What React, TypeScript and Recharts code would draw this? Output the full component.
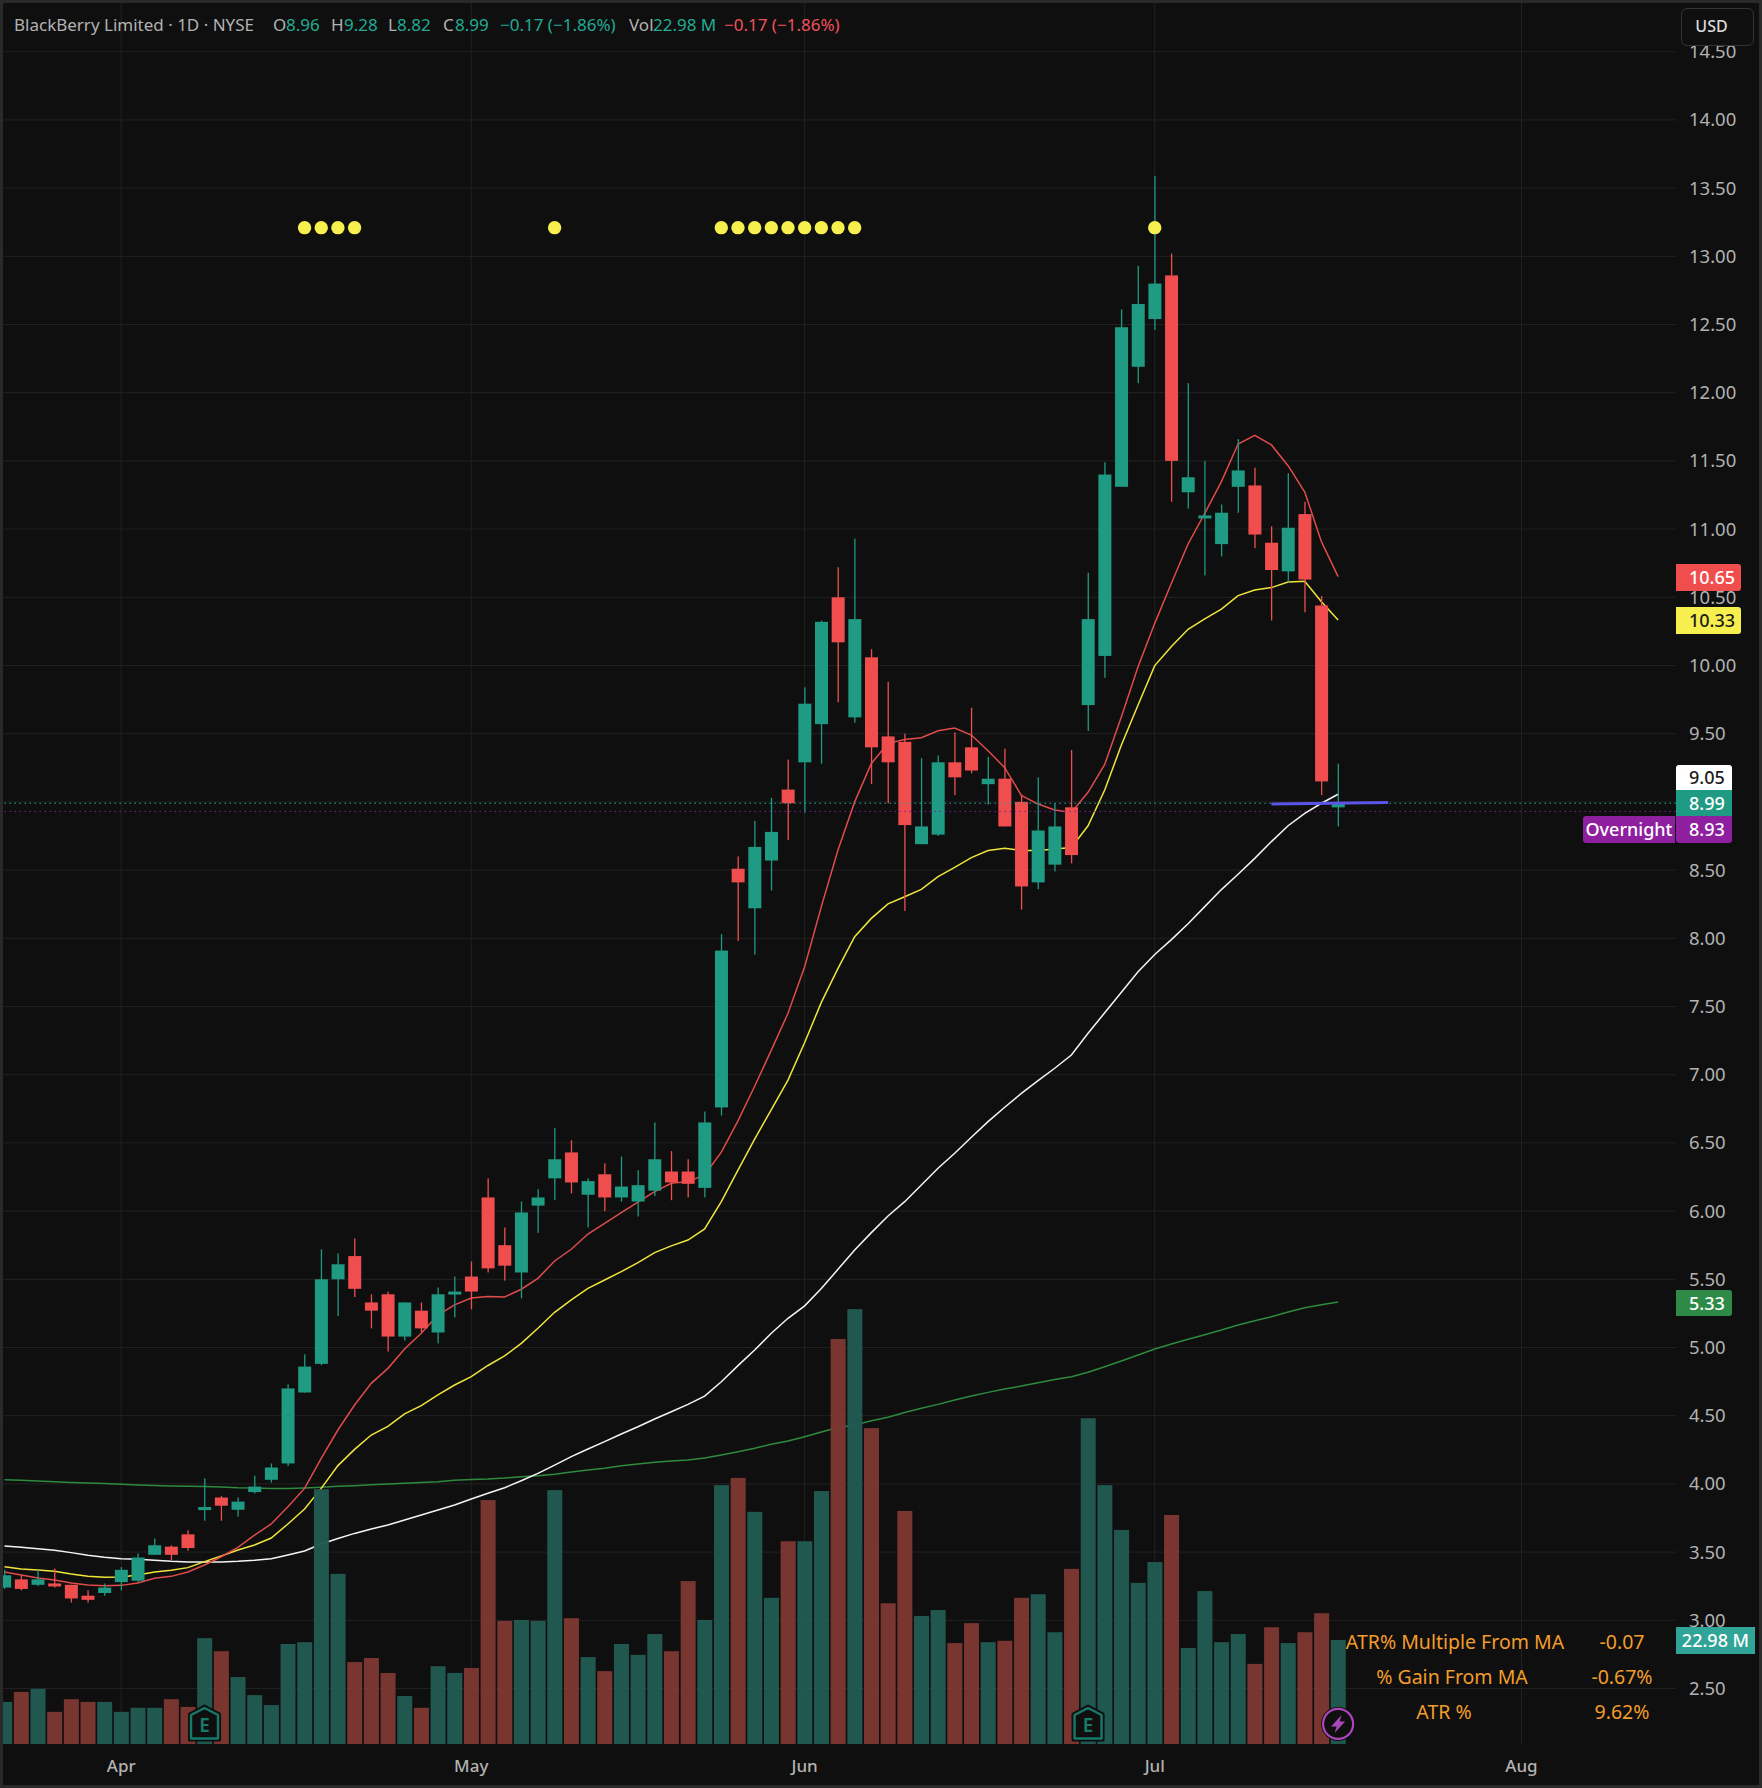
import {
  Bar,
  CartesianGrid,
  ComposedChart,
  Line,
  ReferenceDot,
  ReferenceLine,
  XAxis,
  YAxis,
} from "recharts";

const opens = [3.24, 3.3, 3.26, 3.27, 3.26, 3.18, 3.2, 3.28, 3.29, 3.48, 3.54, 3.63, 3.82, 3.9, 3.81, 3.94, 4.03, 4.15, 4.67, 4.88, 5.5, 5.67, 5.33, 5.39, 5.08, 5.27, 5.11, 5.39, 5.52, 6.1, 5.75, 5.55, 6.04, 6.24, 6.43, 6.12, 6.27, 6.1, 6.07, 6.15, 6.29, 6.29, 6.17, 6.76, 8.51, 8.22, 8.57, 9.09, 9.29, 9.57, 10.5, 9.62, 10.06, 9.48, 9.44, 8.69, 8.76, 9.29, 9.4, 9.13, 9.17, 9.0, 8.41, 8.54, 8.96, 9.71, 10.07, 11.31, 12.19, 12.54, 12.86, 11.27, 11.09, 10.89, 11.31, 11.32, 10.9, 10.69, 11.11, 10.44, 8.96];
const highs = [3.37, 3.33, 3.37, 3.38, 3.26, 3.22, 3.27, 3.39, 3.49, 3.6, 3.55, 3.66, 4.04, 3.91, 3.9, 4.06, 4.15, 4.73, 4.95, 5.72, 5.69, 5.8, 5.39, 5.41, 5.33, 5.33, 5.44, 5.52, 5.63, 6.24, 5.88, 6.07, 6.16, 6.61, 6.52, 6.24, 6.35, 6.4, 6.3, 6.65, 6.44, 6.38, 6.73, 8.03, 8.6, 8.86, 9.03, 9.31, 9.84, 10.33, 10.72, 10.93, 10.12, 9.88, 9.5, 9.32, 9.34, 9.51, 9.69, 9.33, 9.39, 9.05, 9.18, 8.99, 9.38, 10.68, 11.49, 12.61, 12.93, 13.59, 13.02, 12.07, 11.5, 11.18, 11.66, 11.45, 11.02, 11.41, 11.2, 10.51, 9.28];
const lows = [3.23, 3.22, 3.25, 3.24, 3.13, 3.13, 3.18, 3.22, 3.28, 3.48, 3.44, 3.51, 3.73, 3.73, 3.76, 3.93, 4.01, 4.13, 4.67, 4.87, 5.23, 5.37, 5.14, 4.97, 5.05, 5.11, 5.03, 5.22, 5.28, 5.55, 5.49, 5.36, 5.84, 6.08, 6.13, 5.88, 6.0, 6.07, 5.96, 6.11, 6.08, 6.1, 6.1, 6.7, 7.98, 7.88, 8.35, 8.72, 8.92, 9.28, 9.73, 9.58, 9.13, 8.99, 8.2, 8.69, 8.75, 9.05, 9.21, 8.98, 8.82, 8.21, 8.36, 8.49, 8.55, 9.52, 9.91, 11.31, 12.07, 12.46, 11.2, 11.15, 10.66, 10.8, 11.12, 10.86, 10.33, 10.61, 10.39, 9.05, 8.82];
const closes = [3.33, 3.23, 3.3, 3.25, 3.16, 3.15, 3.24, 3.37, 3.46, 3.55, 3.48, 3.53, 3.83, 3.84, 3.87, 3.98, 4.12, 4.7, 4.86, 5.5, 5.61, 5.43, 5.27, 5.08, 5.33, 5.14, 5.39, 5.41, 5.41, 5.58, 5.6, 5.99, 6.1, 6.38, 6.21, 6.22, 6.1, 6.18, 6.19, 6.38, 6.21, 6.2, 6.65, 7.91, 8.41, 8.67, 8.78, 8.99, 9.72, 10.32, 10.17, 10.34, 9.4, 9.29, 8.83, 8.82, 9.29, 9.18, 9.23, 9.17, 8.82, 8.38, 8.79, 8.82, 8.61, 10.34, 11.4, 12.48, 12.65, 12.8, 11.5, 11.38, 11.1, 11.12, 11.43, 10.96, 10.7, 11.01, 10.63, 9.15, 8.99];
const volumes = [9.3, 11.5, 12.2, 7.1, 9.9, 9.3, 9.3, 7.1, 8.0, 8.0, 9.9, 8.2, 23.4, 20.5, 14.8, 10.8, 8.6, 22.1, 22.5, 56.3, 37.6, 18.1, 19.0, 15.7, 10.6, 8.0, 17.2, 15.7, 16.8, 53.9, 27.2, 27.4, 27.2, 56.1, 27.8, 19.2, 16.1, 22.1, 19.7, 24.3, 20.5, 36.0, 27.4, 57.2, 58.8, 51.3, 32.3, 44.8, 44.8, 55.9, 89.5, 96.1, 69.8, 31.1, 51.5, 28.3, 29.6, 22.3, 26.7, 22.5, 22.8, 32.3, 33.1, 24.7, 38.7, 72.0, 57.2, 47.3, 35.6, 40.2, 50.6, 21.2, 33.8, 22.5, 24.3, 17.7, 25.8, 22.3, 24.7, 28.9, 22.98];

const redMa = [3.354, 3.332, 3.31, 3.295, 3.273, 3.259, 3.254, 3.256, 3.273, 3.308, 3.322, 3.354, 3.405, 3.466, 3.535, 3.625, 3.706, 3.833, 3.967, 4.187, 4.395, 4.578, 4.737, 4.847, 4.989, 5.104, 5.238, 5.312, 5.363, 5.373, 5.37, 5.427, 5.507, 5.634, 5.72, 5.832, 5.91, 5.989, 6.065, 6.143, 6.204, 6.216, 6.265, 6.432, 6.662, 6.915, 7.18, 7.45, 7.792, 8.232, 8.647, 9.0, 9.282, 9.429, 9.458, 9.471, 9.522, 9.541, 9.49, 9.375, 9.251, 9.048, 8.984, 8.94, 8.923, 9.07, 9.275, 9.625, 9.99, 10.309, 10.603, 10.891, 11.116, 11.348, 11.624, 11.688, 11.617, 11.465, 11.272, 10.908, 10.651];
const yellowMa = [3.393, 3.376, 3.369, 3.359, 3.339, 3.322, 3.315, 3.317, 3.332, 3.354, 3.366, 3.386, 3.43, 3.471, 3.515, 3.552, 3.603, 3.706, 3.816, 3.967, 4.134, 4.253, 4.358, 4.422, 4.513, 4.574, 4.652, 4.725, 4.786, 4.868, 4.938, 5.03, 5.141, 5.258, 5.349, 5.434, 5.495, 5.556, 5.622, 5.696, 5.745, 5.788, 5.869, 6.069, 6.301, 6.528, 6.744, 6.96, 7.236, 7.53, 7.78, 8.012, 8.146, 8.252, 8.305, 8.359, 8.452, 8.52, 8.591, 8.643, 8.66, 8.643, 8.643, 8.655, 8.665, 8.825, 9.087, 9.417, 9.71, 9.999, 10.14, 10.265, 10.341, 10.414, 10.512, 10.554, 10.571, 10.612, 10.617, 10.468, 10.334];
const whiteMa = [3.545, 3.535, 3.525, 3.513, 3.496, 3.476, 3.462, 3.452, 3.447, 3.44, 3.432, 3.427, 3.427, 3.427, 3.432, 3.44, 3.452, 3.479, 3.508, 3.559, 3.6, 3.637, 3.669, 3.699, 3.735, 3.772, 3.808, 3.845, 3.889, 3.931, 3.972, 4.023, 4.077, 4.138, 4.2, 4.256, 4.31, 4.366, 4.419, 4.476, 4.529, 4.583, 4.644, 4.749, 4.867, 4.981, 5.104, 5.214, 5.305, 5.432, 5.573, 5.715, 5.842, 5.964, 6.069, 6.191, 6.314, 6.424, 6.541, 6.656, 6.761, 6.863, 6.956, 7.047, 7.144, 7.304, 7.454, 7.605, 7.755, 7.881, 7.99, 8.107, 8.232, 8.357, 8.47, 8.586, 8.709, 8.825, 8.916, 8.99, 9.056];
const greenMa = [4.031, 4.026, 4.021, 4.016, 4.011, 4.007, 4.002, 3.997, 3.992, 3.989, 3.985, 3.982, 3.98, 3.977, 3.972, 3.97, 3.967, 3.967, 3.97, 3.975, 3.982, 3.987, 3.994, 3.999, 4.004, 4.011, 4.016, 4.026, 4.032, 4.036, 4.043, 4.053, 4.06, 4.07, 4.087, 4.102, 4.114, 4.133, 4.146, 4.158, 4.168, 4.175, 4.19, 4.212, 4.236, 4.261, 4.29, 4.314, 4.346, 4.38, 4.414, 4.432, 4.463, 4.488, 4.524, 4.554, 4.583, 4.615, 4.644, 4.671, 4.696, 4.717, 4.742, 4.766, 4.786, 4.818, 4.859, 4.901, 4.945, 4.989, 5.025, 5.06, 5.094, 5.128, 5.165, 5.196, 5.226, 5.26, 5.292, 5.314, 5.333];

const squeezeBars = [18, 19, 20, 21, 33, 43, 44, 45, 46, 47, 48, 49, 50, 51, 69];
const squeezeLevel = 13.21;
const earningsBars = [12, 65];
const dividendBars = [80];
const markerLevel = 2.24;

const priceTicks = [2.5, 3, 3.5, 4, 4.5, 5, 5.5, 6, 6.5, 7, 7.5, 8, 8.5, 9, 9.5, 10, 10.5, 11, 11.5, 12, 12.5, 13, 13.5, 14, 14.5];
const monthTicks = [7, 28, 48, 69, 91];
const monthLabels = ["Apr", "May", "Jun", "Jul", "Aug"];

const UP = "#1f9a83";
const DOWN = "#f04e4e";
const FONT = "'Noto Sans', sans-serif";

const rows = opens.map((open, i) => ({
  i,
  open,
  high: highs[i],
  low: lows[i],
  close: closes[i],
  range: [lows[i], highs[i]],
  volume: volumes[i],
  red: redMa[i],
  yellow: yellowMa[i],
  white: whiteMa[i],
  green: greenMa[i],
  squeeze: squeezeBars.includes(i) ? squeezeLevel : null,
}));

function Candle(props: any) {
  const { x, y, width, height, payload } = props;
  const color = payload.close >= payload.open ? UP : DOWN;
  const perUnit = height / (payload.high - payload.low);
  const top = y + (payload.high - Math.max(payload.open, payload.close)) * perUnit;
  const bodyH = Math.max(Math.abs(payload.open - payload.close) * perUnit, 3);
  return (
    <g>
      <rect x={x + width / 2 - 0.6} y={y} width={1.3} height={height} fill={color} />
      <rect x={x} y={top} width={width} height={bodyH} fill={color} />
    </g>
  );
}

function VolumeBar(props: any) {
  const { x, y, width, height, payload } = props;
  const up = payload.close >= payload.open;
  return <rect x={x} y={y} width={width} height={height} fill={up ? "#215a52" : "#7d3731"} opacity={0.97} />;
}

function EarningsIcon({ cx, cy }: any) {
  return (
    <g transform={`translate(${cx},${cy})`}>
      <path d="M-15,-10 L0,-18 L15,-10 L15,16 L-15,16 Z" fill="#0f0f0f" stroke="#0f0f0f" strokeWidth={3} strokeLinejoin="round" />
      <path d="M-13.5,-9 L0,-16 L13.5,-9 L13.5,14.5 L-13.5,14.5 Z" fill="#0f0f0f" stroke="#167a69" strokeWidth={2.4} strokeLinejoin="round" />
      <text x={0} y={8} textAnchor="middle" fontFamily={FONT} fontSize={19} fontWeight={600} fill="#167a69">E</text>
    </g>
  );
}

function DividendIcon({ cx, cy }: any) {
  return (
    <g transform={`translate(${cx},${cy})`}>
      <circle r={17} fill="#0f0f0f" />
      <circle r={15} fill="#0f0f0f" stroke="#ab47bc" strokeWidth={2.2} />
      <path d="M3.5,-9 L-7,2.5 L-1.5,2.5 L-3.5,9 L7,-2.5 L1.5,-2.5 Z" fill="#ab47bc" />
    </g>
  );
}

function Tag(props: { left: number; top: number; width: number; height: number; bg: string; color?: string; text: string; align?: string; radius?: string }) {
  const { left, top, width, height, bg, color = "#fff", text, align = "left", radius = "0 3px 3px 0" } = props;
  return (
    <div
      style={{
        position: "absolute",
        left,
        top,
        width,
        height,
        lineHeight: `${height}px`,
        background: bg,
        color,
        fontFamily: FONT,
        fontSize: 18,
        fontWeight: 500,
        textAlign: align as any,
        paddingLeft: align === "left" ? 13 : 0,
        boxSizing: "border-box",
        borderRadius: radius,
        whiteSpace: "nowrap",
      }}
    >
      {text}
    </div>
  );
}

function Label({ left, color, text }: { left: number; color: string; text: string }) {
  return <span style={{ position: "absolute", left, top: 13, lineHeight: "24px", color, whiteSpace: "pre" }}>{text}</span>;
}

function StatRow({ top, name, value, shift = 0 }: { top: number; name: string; value: string; shift?: number }) {
  const base: any = { position: "absolute", top, lineHeight: "28px", color: "#f29d2b", fontFamily: FONT, fontSize: 19.5, textAlign: "center", whiteSpace: "pre" };
  return (
    <>
      <div style={{ ...base, left: 1335 + shift, width: 240 }}>{name}</div>
      <div style={{ ...base, left: 1572, width: 100 }}>{value}</div>
    </>
  );
}

export default function App() {
  return (
    <div style={{ position: "absolute", left: 0, top: 0, width: 1762, height: 1788, background: "#0f0f0f", overflow: "hidden" }}>
      <ComposedChart width={1762} height={1788} data={rows} margin={{ top: 3, right: 0, bottom: 0, left: 0 }}>
        <XAxis
          xAxisId="time"
          type="number"
          dataKey="i"
          domain={[-0.27, 100.27]}
          allowDataOverflow
          ticks={monthTicks}
          tickFormatter={(v: number) => monthLabels[monthTicks.indexOf(v)]}
          height={44}
          axisLine={false}
          tickLine={false}
          tickMargin={10}
          tick={{ fill: "#b2b2b2", fontSize: 17, fontFamily: FONT, fontWeight: 500 }}
        />
        <XAxis xAxisId="volTime" type="number" dataKey="i" domain={[-0.27, 100.27]} allowDataOverflow hide />
        <YAxis
          yAxisId="price"
          orientation="right"
          domain={[2.093, 14.857]}
          allowDataOverflow
          ticks={priceTicks}
          tickFormatter={(v: number) => v.toFixed(2)}
          width={86}
          axisLine={false}
          tickLine={false}
          tickMargin={7}
          interval={0}
          tick={{ fill: "#b2b2b2", fontSize: 18.5, fontFamily: FONT }}
        />
        <YAxis yAxisId="volume" domain={[0, 384.7]} allowDataOverflow hide />
        <CartesianGrid
          xAxisId="time"
          yAxisId="price"
          stroke="#222222"
          strokeWidth={1}
          horizontalValues={priceTicks}
          verticalValues={monthTicks}
        />
        <ReferenceLine xAxisId="time" yAxisId="price" y={8.99} stroke="#22ab94" strokeDasharray="1.5 3.5" />
        <ReferenceLine xAxisId="time" yAxisId="price" y={8.93} stroke="#7b1fa2" strokeDasharray="1.5 3.5" />
        <Line xAxisId="time" yAxisId="price" zIndex={250} type="linear" dataKey="green" stroke="#2e8b3e" strokeWidth={1.5} dot={false} isAnimationActive={false} />
        <Line xAxisId="time" yAxisId="price" zIndex={250} type="linear" dataKey="white" stroke="#f5f5f5" strokeWidth={1.5} dot={false} isAnimationActive={false} />
        <Line xAxisId="time" yAxisId="price" zIndex={250} type="linear" dataKey="yellow" stroke="#f0e53c" strokeWidth={1.5} dot={false} isAnimationActive={false} />
        <Line xAxisId="time" yAxisId="price" zIndex={250} type="linear" dataKey="red" stroke="#e04b4b" strokeWidth={1.5} dot={false} isAnimationActive={false} />
        <Bar xAxisId="volTime" yAxisId="volume" zIndex={260} dataKey="volume" barSize={15} shape={VolumeBar} isAnimationActive={false} />
        <Bar xAxisId="time" yAxisId="price" zIndex={300} dataKey="range" barSize={13} shape={Candle} isAnimationActive={false} />
        <Line
          xAxisId="time"
          yAxisId="price"
          zIndex={290}
          dataKey="squeeze"
          stroke="none"
          dot={{ r: 6.7, fill: "#f6ef4d", stroke: "none" }}
          isAnimationActive={false}
        />
        <ReferenceLine
          xAxisId="time"
          yAxisId="price"
          zIndex={500}
          segment={[{ x: 76, y: 8.985 }, { x: 83, y: 8.995 }]}
          stroke="#5b54e8"
          strokeWidth={3}
        />
        {earningsBars.map((b) => (
          <ReferenceDot key={b} xAxisId="time" yAxisId="price" zIndex={600} x={b} y={markerLevel} shape={EarningsIcon} />
        ))}
        {dividendBars.map((b) => (
          <ReferenceDot key={b} xAxisId="time" yAxisId="price" zIndex={600} x={b} y={markerLevel} shape={DividendIcon} />
        ))}
      </ComposedChart>

      <div style={{ position: "absolute", inset: 0, fontFamily: FONT, fontSize: 17, pointerEvents: "none" }}>
        <Label left={14} color="#b2b2b2" text="BlackBerry Limited · 1D · NYSE" />
        <Label left={273} color="#b2b2b2" text="O" />
        <Label left={286} color="#22ab94" text="8.96" />
        <Label left={331} color="#b2b2b2" text="H" />
        <Label left={344} color="#22ab94" text="9.28" />
        <Label left={388} color="#b2b2b2" text="L" />
        <Label left={397} color="#22ab94" text="8.82" />
        <Label left={443} color="#b2b2b2" text="C" />
        <Label left={455} color="#22ab94" text="8.99" />
        <Label left={500} color="#22ab94" text="−0.17 (−1.86%)" />
        <Label left={629} color="#b2b2b2" text="Vol" />
        <Label left={653} color="#22ab94" text="22.98 M" />
        <Label left={724} color="#f0525a" text="−0.17 (−1.86%)" />
      </div>

      <div
        style={{
          position: "absolute",
          left: 1681,
          top: 8,
          width: 73,
          height: 38,
          lineHeight: "34px",
          boxSizing: "border-box",
          border: "1px solid #333",
          borderRadius: 6,
          background: "#0f0f0f",
          color: "#dbdbdb",
          fontFamily: FONT,
          fontSize: 16,
          fontWeight: 500,
          textAlign: "center",
          paddingRight: 12,
        }}
      >
        USD
      </div>

      <Tag left={1676} top={564} width={65} height={27} bg="#f04e4e" text="10.65" />
      <Tag left={1676} top={607} width={65} height={27} bg="#f6ef4d" color="#1c1c1c" text="10.33" />
      <Tag left={1676} top={765} width={56} height={25} bg="#ffffff" color="#1c1c1c" text="9.05" radius="3px 3px 0 0" />
      <Tag left={1676} top={790} width={56} height={26} bg="#1f9a83" text="8.99" radius="0" />
      <Tag left={1583} top={816} width={92} height={27} bg="#8e1f9f" text="Overnight" align="center" radius="3px 0 0 3px" />
      <Tag left={1676} top={816} width={56} height={27} bg="#8e1f9f" text="8.93" radius="0 0 3px 3px" />
      <Tag left={1676} top={1290} width={56} height={26} bg="#2e8b47" text="5.33" />
      <Tag left={1676} top={1627} width={79} height={27} bg="#2fa497" text="22.98 M" align="center" radius="0" />

      <StatRow top={1628} name="ATR% Multiple From MA" value="-0.07" />
      <StatRow top={1663} name="% Gain From MA" value="-0.67%" shift={-3} />
      <StatRow top={1698} name="ATR %" value="9.62%" shift={-11} />

      <div style={{ position: "absolute", inset: 0, border: "3px solid #2a2a2a", boxSizing: "border-box", pointerEvents: "none" }} />
    </div>
  );
}
